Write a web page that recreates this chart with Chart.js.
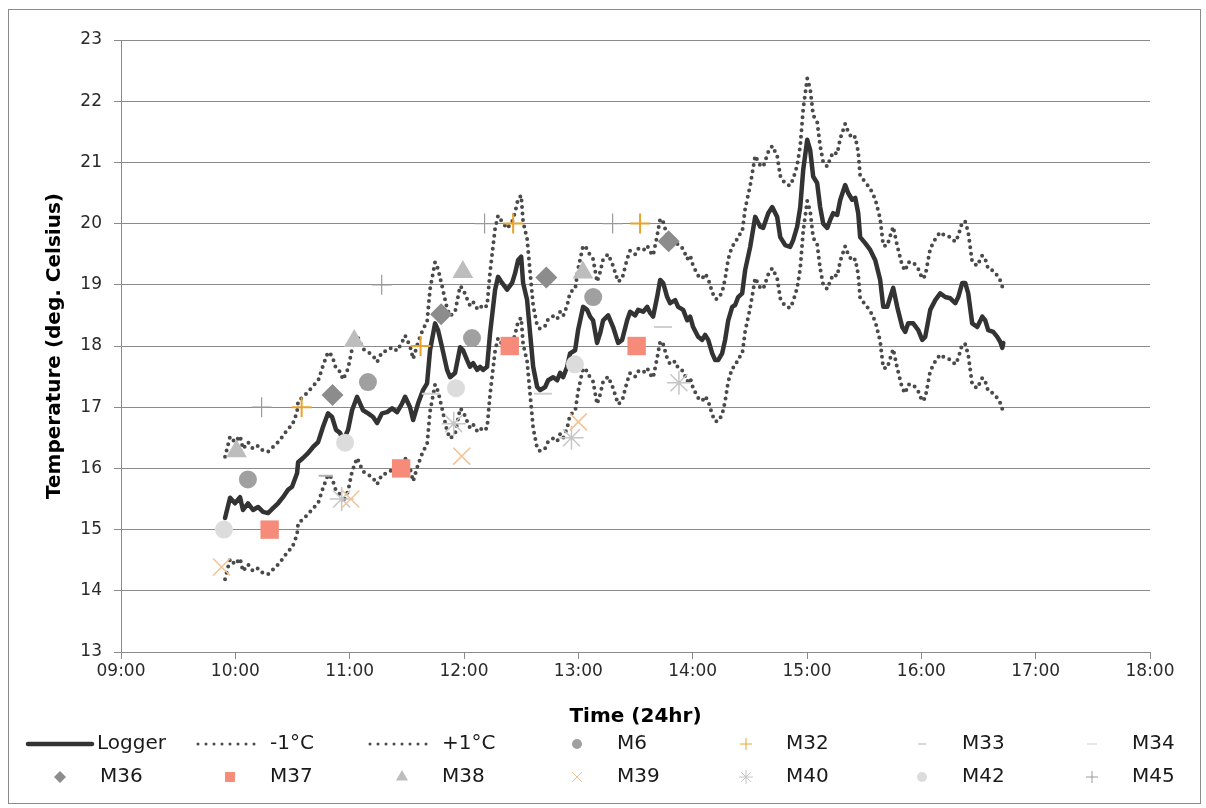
<!DOCTYPE html>
<html lang="en">
<head>
<meta charset="UTF-8" />
<title>Logger vs sensors</title>
<style>
  html, body { margin: 0; padding: 0; background: #fff; }
  #chart { display: block; }
</style>
<script src="https://cdn.jsdelivr.net/npm/chart.js"></script>
</head>
<body>
<canvas id="chart" width="1206" height="808"></canvas>
<script>
// Logger trace (time in decimal hours, temperature in deg C)
const loggerTime = [
  9.910, 9.954, 9.997, 10.041, 10.067, 10.111, 10.155, 10.199, 10.242, 10.286,
  10.330, 10.374, 10.417, 10.461, 10.496, 10.540, 10.549, 10.592, 10.636, 10.680,
  10.724, 10.767, 10.811, 10.846, 10.881, 10.916, 10.942, 10.986, 11.021, 11.065,
  11.117, 11.161, 11.205, 11.240, 11.283, 11.327, 11.371, 11.415, 11.458, 11.485,
  11.528, 11.555, 11.598, 11.642, 11.677, 11.703, 11.747, 11.773, 11.808, 11.852,
  11.878, 11.922, 11.966, 11.992, 12.027, 12.053, 12.080, 12.115, 12.141, 12.167,
  12.202, 12.228, 12.272, 12.298, 12.333, 12.377, 12.421, 12.447, 12.473, 12.500,
  12.517, 12.552, 12.578, 12.605, 12.640, 12.666, 12.710, 12.736, 12.780, 12.815,
  12.841, 12.867, 12.902, 12.928, 12.972, 12.998, 13.042, 13.077, 13.103, 13.129,
  13.164, 13.191, 13.217, 13.261, 13.304, 13.348, 13.383, 13.427, 13.453, 13.497,
  13.523, 13.567, 13.602, 13.628, 13.654, 13.689, 13.716, 13.742, 13.777, 13.803,
  13.847, 13.873, 13.917, 13.952, 13.978, 14.004, 14.048, 14.083, 14.109, 14.136,
  14.171, 14.197, 14.223, 14.258, 14.284, 14.311, 14.346, 14.372, 14.398, 14.433,
  14.459, 14.503, 14.547, 14.591, 14.617, 14.661, 14.696, 14.739, 14.766, 14.809,
  14.853, 14.879, 14.914, 14.941, 14.967, 15.002, 15.028, 15.054, 15.089, 15.115,
  15.142, 15.177, 15.203, 15.229, 15.264, 15.291, 15.334, 15.360, 15.395, 15.422,
  15.448, 15.465, 15.509, 15.553, 15.597, 15.640, 15.667, 15.702, 15.728, 15.754,
  15.789, 15.833, 15.859, 15.885, 15.929, 15.973, 16.008, 16.034, 16.078, 16.122,
  16.165, 16.209, 16.253, 16.297, 16.323, 16.358, 16.384, 16.410, 16.445, 16.489,
  16.533, 16.559, 16.585, 16.629, 16.664, 16.690, 16.708, 16.717
];
const loggerTemp = [
  15.19, 15.52, 15.43, 15.53, 15.32, 15.43, 15.32, 15.37, 15.29, 15.27,
  15.35, 15.43, 15.53, 15.65, 15.70, 15.92, 16.10, 16.17, 16.25, 16.35,
  16.43, 16.68, 16.90, 16.84, 16.63, 16.58, 16.45, 16.63, 16.95, 17.17,
  16.95, 16.90, 16.84, 16.74, 16.90, 16.92, 16.98, 16.92, 17.06, 17.17,
  17.00, 16.79, 17.06, 17.28, 17.39, 17.93, 18.37, 18.26, 17.98, 17.61,
  17.49, 17.56, 17.98, 17.93, 17.77, 17.66, 17.72, 17.61, 17.66, 17.61,
  17.66, 18.21, 18.92, 19.13, 19.03, 18.92, 19.03, 19.19, 19.40, 19.46,
  19.03, 18.75, 18.21, 17.66, 17.33, 17.28, 17.33, 17.44, 17.49, 17.44,
  17.56, 17.49, 17.66, 17.88, 17.93, 18.26, 18.64, 18.59, 18.48, 18.42,
  18.05, 18.21, 18.42, 18.50, 18.31, 18.05, 18.10, 18.42, 18.56, 18.50,
  18.59, 18.56, 18.64, 18.54, 18.48, 18.80, 19.08, 19.03, 18.80, 18.70,
  18.75, 18.64, 18.59, 18.42, 18.48, 18.31, 18.15, 18.10, 18.18, 18.10,
  17.88, 17.77, 17.77, 17.88, 18.10, 18.42, 18.64, 18.67, 18.80, 18.86,
  19.24, 19.62, 20.11, 19.95, 19.93, 20.17, 20.27, 20.11, 19.78, 19.65,
  19.62, 19.73, 19.95, 20.27, 20.88, 21.37, 21.20, 20.77, 20.66, 20.27,
  20.00, 19.93, 20.06, 20.17, 20.14, 20.39, 20.63, 20.50, 20.39, 20.42,
  20.17, 19.78, 19.68, 19.57, 19.40, 19.08, 18.64, 18.64, 18.80, 18.95,
  18.64, 18.31, 18.23, 18.37, 18.37, 18.26, 18.10, 18.15, 18.59, 18.75,
  18.86, 18.80, 18.78, 18.70, 18.80, 19.03, 19.03, 18.86, 18.37, 18.31,
  18.48, 18.42, 18.26, 18.23, 18.15, 18.07, 17.97, 18.05
];
// -1°C band
const minusTemp = [
  14.19, 14.52, 14.43, 14.53, 14.32, 14.43, 14.32, 14.37, 14.29, 14.27,
  14.35, 14.43, 14.53, 14.65, 14.70, 14.92, 15.10, 15.17, 15.25, 15.35,
  15.43, 15.68, 15.90, 15.84, 15.63, 15.58, 15.45, 15.63, 15.95, 16.17,
  15.95, 15.90, 15.84, 15.74, 15.90, 15.92, 15.98, 15.92, 16.06, 16.17,
  16.00, 15.79, 16.06, 16.28, 16.39, 16.93, 17.37, 17.26, 16.98, 16.61,
  16.49, 16.56, 16.98, 16.93, 16.77, 16.66, 16.72, 16.61, 16.66, 16.61,
  16.66, 17.21, 17.92, 18.13, 18.03, 17.92, 18.03, 18.19, 18.40, 18.46,
  18.03, 17.75, 17.21, 16.66, 16.33, 16.28, 16.33, 16.44, 16.49, 16.44,
  16.56, 16.49, 16.66, 16.88, 16.93, 17.26, 17.64, 17.59, 17.48, 17.42,
  17.05, 17.21, 17.42, 17.50, 17.31, 17.05, 17.10, 17.42, 17.56, 17.50,
  17.59, 17.56, 17.64, 17.54, 17.48, 17.80, 18.08, 18.03, 17.80, 17.70,
  17.75, 17.64, 17.59, 17.42, 17.48, 17.31, 17.15, 17.10, 17.18, 17.10,
  16.88, 16.77, 16.77, 16.88, 17.10, 17.42, 17.64, 17.67, 17.80, 17.86,
  18.24, 18.62, 19.11, 18.95, 18.93, 19.17, 19.27, 19.11, 18.78, 18.65,
  18.62, 18.73, 18.95, 19.27, 19.88, 20.37, 20.20, 19.77, 19.66, 19.27,
  19.00, 18.93, 19.06, 19.17, 19.14, 19.39, 19.63, 19.50, 19.39, 19.42,
  19.17, 18.78, 18.68, 18.57, 18.40, 18.08, 17.64, 17.64, 17.80, 17.95,
  17.64, 17.31, 17.23, 17.37, 17.37, 17.26, 17.10, 17.15, 17.59, 17.75,
  17.86, 17.80, 17.78, 17.70, 17.80, 18.03, 18.03, 17.86, 17.37, 17.31,
  17.48, 17.42, 17.26, 17.23, 17.15, 17.07, 16.97, 17.05
];
// +1°C band
const plusTemp = [
  16.19, 16.52, 16.43, 16.53, 16.32, 16.43, 16.32, 16.37, 16.29, 16.27,
  16.35, 16.43, 16.53, 16.65, 16.70, 16.92, 17.10, 17.17, 17.25, 17.35,
  17.43, 17.68, 17.90, 17.84, 17.63, 17.58, 17.45, 17.63, 17.95, 18.17,
  17.95, 17.90, 17.84, 17.74, 17.90, 17.92, 17.98, 17.92, 18.06, 18.17,
  18.00, 17.79, 18.06, 18.28, 18.39, 18.93, 19.37, 19.26, 18.98, 18.61,
  18.49, 18.56, 18.98, 18.93, 18.77, 18.66, 18.72, 18.61, 18.66, 18.61,
  18.66, 19.21, 19.92, 20.13, 20.03, 19.92, 20.03, 20.19, 20.40, 20.46,
  20.03, 19.75, 19.21, 18.66, 18.33, 18.28, 18.33, 18.44, 18.49, 18.44,
  18.56, 18.49, 18.66, 18.88, 18.93, 19.26, 19.64, 19.59, 19.48, 19.42,
  19.05, 19.21, 19.42, 19.50, 19.31, 19.05, 19.10, 19.42, 19.56, 19.50,
  19.59, 19.56, 19.64, 19.54, 19.48, 19.80, 20.08, 20.03, 19.80, 19.70,
  19.75, 19.64, 19.59, 19.42, 19.48, 19.31, 19.15, 19.10, 19.18, 19.10,
  18.88, 18.77, 18.77, 18.88, 19.10, 19.42, 19.64, 19.67, 19.80, 19.86,
  20.24, 20.62, 21.11, 20.95, 20.93, 21.17, 21.27, 21.11, 20.78, 20.65,
  20.62, 20.73, 20.95, 21.27, 21.88, 22.37, 22.20, 21.77, 21.66, 21.27,
  21.00, 20.93, 21.06, 21.17, 21.14, 21.39, 21.63, 21.50, 21.39, 21.42,
  21.17, 20.78, 20.68, 20.57, 20.40, 20.08, 19.64, 19.64, 19.80, 19.95,
  19.64, 19.31, 19.23, 19.37, 19.37, 19.26, 19.10, 19.15, 19.59, 19.75,
  19.86, 19.80, 19.78, 19.70, 19.80, 20.03, 20.03, 19.86, 19.37, 19.31,
  19.48, 19.42, 19.26, 19.23, 19.15, 19.07, 18.97, 19.05
];

// spot readings from the hand-held meters
const m6Time  = [10.11, 11.16, 12.07, 13.13];
const m6Temp  = [15.82, 17.41, 18.13, 18.80];
const m32Time = [10.58, 11.62, 12.43, 13.54];
const m32Temp = [17.0, 18.0, 20.0, 20.0];
const m33Time = [10.79];
const m33Temp = [15.88];
const m34Time = [11.71, 12.69, 13.74];
const m34Temp = [17.22, 17.22, 18.31];
const m36Time = [10.85, 11.80, 12.72, 13.79];
const m36Temp = [17.2, 18.52, 19.12, 19.71];
const m37Time = [10.30, 11.45, 12.40, 13.51];
const m37Temp = [15.0, 16.0, 18.0, 18.0];
const m38Time = [10.01, 11.04, 11.99, 13.04];
const m38Temp = [16.28, 18.08, 19.21, 19.20];
const m39Time = [9.88, 11.01, 11.98, 13.00];
const m39Temp = [14.39, 15.50, 16.20, 16.76];
const m40Time = [10.93, 11.91, 12.94, 13.88];
const m40Temp = [15.50, 16.73, 16.50, 17.40];
const m42Time = [9.90, 10.96, 11.93, 12.97];
const m42Temp = [15.0, 16.42, 17.31, 17.70];
const m45Time = [10.23, 11.28, 12.18, 13.30];
const m45Temp = [17.0, 19.0, 20.0, 20.0];

const xTicks = [9, 10, 11, 12, 13, 14, 15, 16, 17, 18];
const yTicks = [13, 14, 15, 16, 17, 18, 19, 20, 21, 22, 23];

function pts(xs, ys) {
  return xs.map((x, i) => ({ x: x, y: ys[i] }));
}

const FONT = '"DejaVu Sans", Verdana, sans-serif';

function lineSet(label, ys, color, width, dotted) {
  return {
    label: label,
    data: pts(loggerTime, ys),
    showLine: true,
    borderColor: color,
    backgroundColor: color,
    borderWidth: width,
    borderDash: dotted ? [0, 6.5] : [],
    borderCapStyle: 'round',
    borderJoinStyle: 'round',
    pointRadius: 0,
    tension: 0,
    order: 2
  };
}

function markSet(label, xs, ys, style, color, radius, filled, bw) {
  return {
    label: label,
    data: pts(xs, ys),
    showLine: false,
    pointStyle: style,
    pointRadius: radius,
    pointBorderWidth: bw,
    pointBackgroundColor: filled ? color : 'rgba(0,0,0,0)',
    pointBorderColor: color,
    backgroundColor: filled ? color : 'rgba(0,0,0,0)',
    borderColor: color,
    order: 1,
    legendRadius: Math.round(radius * 0.55)
  };
}

const datasets = [
  lineSet('Logger', loggerTemp, '#333333', 4.5, false),
  lineSet('-1\u00B0C', minusTemp, '#4a4a4a', 4, true),
  lineSet('+1\u00B0C', plusTemp, '#4a4a4a', 4, true),
  markSet('M6', m6Time, m6Temp, 'circle', '#a0a0a0', 9, true, 0),
  markSet('M32', m32Time, m32Temp, 'cross', '#e8a22e', 10, false, 2),
  markSet('M33', m33Time, m33Temp, 'line', '#b0b0b0', 7, false, 2),
  markSet('M34', m34Time, m34Temp, 'line', '#cfcfcf', 9, false, 2),
  markSet('M36', m36Time, m36Temp, 'rectRot', '#8c8c8c', 11, true, 0),
  markSet('M37', m37Time, m37Temp, 'rect', '#f58b78', 13, true, 0),
  markSet('M38', m38Time, m38Temp, 'triangle', '#bdbdbd', 12, true, 0),
  markSet('M39', m39Time, m39Temp, 'crossRot', '#f2c393', 12, false, 1.5),
  markSet('M40', m40Time, m40Temp, 'star', '#c6c6c6', 12, false, 1.5),
  markSet('M42', m42Time, m42Temp, 'circle', '#dcdcdc', 9, true, 0),
  markSet('M45', m45Time, m45Temp, 'cross', '#9a9a9a', 10, false, 1.2)
];

// white page + thin frame
const framePlugin = {
  id: 'frame',
  beforeDraw(chart) {
    const ctx = chart.ctx;
    ctx.save();
    ctx.fillStyle = '#ffffff';
    ctx.fillRect(0, 0, chart.width, chart.height);
    ctx.strokeStyle = '#8a8a8a';
    ctx.lineWidth = 1;
    ctx.strokeRect(8.5, 9.5, 1192, 794);
    ctx.restore();
  }
};

// legend laid out as a 7 x 2 grid like the original
const legendCols = [60, 230, 402, 577, 746, 922, 1092];
const legendRows = [744, 777];
const gridLegend = {
  id: 'gridLegend',
  afterDraw(chart) {
    const ctx = chart.ctx;
    ctx.save();
    ctx.font = '20px ' + FONT;
    ctx.textBaseline = 'middle';
    chart.data.datasets.forEach((ds, i) => {
      const cx = legendCols[i % 7];
      const cy = legendRows[Math.floor(i / 7)];
      if (ds.showLine) {
        ctx.save();
        ctx.strokeStyle = ds.borderColor;
        ctx.lineWidth = i === 0 ? ds.borderWidth : 3;
        ctx.lineCap = 'round';
        ctx.setLineDash(i === 0 ? [] : [0, 8]);
        ctx.beginPath();
        ctx.moveTo(cx - 32, cy);
        ctx.lineTo(cx + 32, cy);
        ctx.stroke();
        ctx.restore();
      } else {
        ctx.save();
        ctx.fillStyle = ds.pointBackgroundColor;
        ctx.strokeStyle = ds.pointBorderColor;
        Chart.helpers.drawPoint(ctx, {
          pointStyle: ds.pointStyle,
          radius: ds.legendRadius,
          rotation: 0,
          borderWidth: ds.pointBorderWidth
        }, cx, cy);
        ctx.restore();
      }
      ctx.fillStyle = '#1a1a1a';
      ctx.fillText(ds.label, cx + (i === 0 ? 37 : 40), cy);
    });
    ctx.restore();
  }
};

function hhmm(v) {
  return (v < 10 ? '0' : '') + v + ':00';
}

new Chart(document.getElementById('chart'), {
  type: 'scatter',
  data: { datasets: datasets },
  plugins: [framePlugin, gridLegend],
  options: {
    responsive: false,
    animation: false,
    devicePixelRatio: 1,
    layout: { padding: { left: 20, right: 56, top: 40, bottom: 78 } },
    plugins: {
      legend: { display: false },
      tooltip: { enabled: false }
    },
    scales: {
      x: {
        type: 'linear',
        min: 9,
        max: 18,
        afterBuildTicks: s => { s.ticks = xTicks.map(v => ({ value: v })); },
        afterFit: s => { s.height = 78; },
        grid: { drawOnChartArea: false, drawTicks: true, tickLength: 7, color: '#8a8a8a' },
        border: { display: true, color: '#8a8a8a' },
        ticks: {
          padding: 2,
          color: '#2a2a2a',
          font: { family: FONT, size: 17 },
          maxRotation: 0,
          callback: v => hhmm(v)
        },
        title: {
          display: true,
          text: 'Time (24hr)',
          color: '#000',
          font: { family: FONT, size: 20, weight: 'bold' },
          padding: { top: 0, bottom: 1 }
        }
      },
      y: {
        min: 13,
        max: 23,
        afterBuildTicks: s => { s.ticks = yTicks.map(v => ({ value: v })); },
        afterFit: s => { s.width = 101; },
        grid: { color: '#8a8a8a', tickLength: 7, lineWidth: 1 },
        border: { display: true, color: '#8a8a8a' },
        ticks: {
          padding: 12,
          color: '#2a2a2a',
          font: { family: FONT, size: 17 }
        },
        title: {
          display: true,
          text: 'Temperature (deg. Celsius)',
          color: '#000',
          font: { family: FONT, size: 20, weight: 'bold' },
          padding: { top: 23, bottom: 0 }
        }
      }
    }
  }
});
</script>
</body>
</html>
